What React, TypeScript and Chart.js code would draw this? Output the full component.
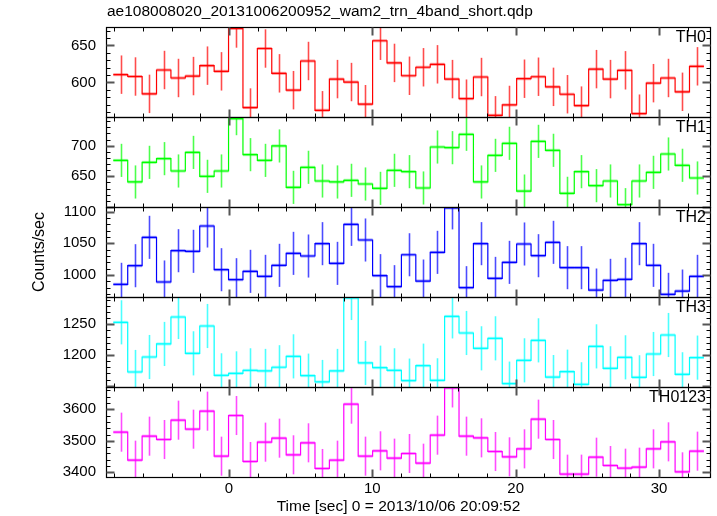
import React, { useEffect, useRef } from "react";
import { Chart, registerables } from "chart.js";

Chart.register(...registerables);

const FONT = '"Liberation Sans", Arial, Helvetica, sans-serif';

const TITLE = "ae108008020_20131006200952_wam2_trn_4band_short.qdp";
const X_LABEL = "Time [sec] 0 = 2013/10/06 20:09:52";
const Y_LABEL = "Counts/sec";

const PANEL_NAMES = ["TH0", "TH1", "TH2", "TH3", "TH0123"];
const PANEL_COLORS = ["#ff0000", "#00ff00", "#0000ff", "#00ffff", "#ff00ff"];

// time binning (seconds)
const BIN_START = -8.07;
const BIN_WIDTH = 1.005;
const X_MIN = -8.58;
const X_MAX = 33.63;
const X_MAJOR = 10;
const X_MINOR = 2;

// count rates per band
const TH0 = [610.5, 608, 584.5, 616.8, 606, 608.6, 622.7, 615, 673, 566,
  645.9, 612.3, 589.5, 629, 562.3, 604.5, 600.5, 570.5, 656.4,
  626.4, 609, 620.5, 624.5, 604.5, 578, 607.3, 555.5, 569.5, 605,
  607.7, 594, 584, 568.6, 618, 604.5, 616.4, 557.7, 599, 606,
  587.3, 621.8];
const TH1 = [676, 640.8, 672.8, 678.8, 658.7, 689, 650, 658.7, 744, 685.3,
  676, 699.5, 632, 664.7, 642.4, 640.8, 643.5, 637.5, 630.4,
  659.8, 657.6, 631, 697.8, 696.7, 718.5, 640.8, 684.2, 703.8, 626,
  707, 692.4, 622.3, 657.6, 634.8, 642.4, 603.8, 642.4, 656.5, 686.4,
  668, 647.3];
const TH2 = [985.3, 1014.7, 1059.5, 989, 1038.4, 1037.4, 1077.4, 1008.4, 992.6, 1005.8,
  997.9, 1015.3, 1034.2, 1030, 1049.5, 1018.4, 1080, 1055.3, 999,
  981.6, 1032, 990.5, 1035.8, 1106, 980, 1049.5, 994.7, 1020, 1049,
  1030.5, 1051.6, 1011.6, 1011.6, 976.3, 991.6, 993.2, 1049.5, 1015.3, 969.5,
  974.7, 997.9];
const TH3 = [1253.3, 1172.3, 1196.7, 1218, 1262, 1202.7, 1247.3, 1166.8, 1170, 1175,
  1174, 1180, 1197.8, 1166.3, 1156, 1174, 1293, 1187, 1179.3,
  1175, 1158.2, 1182.6, 1158.7, 1263, 1235.9, 1210.9, 1227.2, 1153.3, 1191.3,
  1223.9, 1164, 1172.8, 1152.2, 1214.1, 1178.3, 1196.2, 1163.6, 1201.6, 1232.6,
  1168.5, 1195.7];
const TH0123 = [3527.5, 3438.6, 3514.8, 3504.2, 3565.6, 3537, 3594.2, 3451.3, 3580.4, 3434.4,
  3495.8, 3508.5, 3455.6, 3493.7, 3412.2, 3438.6, 3616.4, 3451.3, 3468.3,
  3445, 3459.8, 3429, 3518, 3668, 3514.8, 3509.5, 3466.1, 3449.2, 3474.6,
  3568.8, 3504.2, 3394.2, 3394.2, 3448.1, 3421.7, 3413.2, 3416.4, 3474.6, 3496.8,
  3401.6, 3467.2];

// 1-sigma errors per band
const ERRORS = [26, 27, 34, 36, 62];

// axis ranges and tick steps per band
const Y_MINS = [553.2, 600, 965.3, 1147.8, 3385.2];
const Y_MAXS = [675, 746.7, 1107.4, 1294.6, 3670.9];
const Y_MAJORS = [50, 50, 50, 50, 100];
const Y_MINORS = [10, 10, 10, 10, 20];

const SERIES = [TH0, TH1, TH2, TH3, TH0123];

const PANEL_TOP = 27;
const PANEL_H = 90;
const PAD = 12;
const XAXIS_H = 39;
const LEFT_W = 106;
const RIGHT_PAD = 6;

function isMultiple(v: number, step: number) {
  return Math.abs(v / step - Math.round(v / step)) < 1e-6;
}

function makePlugin(i: number) {
  const color = PANEL_COLORS[i];
  const vals = SERIES[i];
  const err = ERRORS[i];
  return {
    id: "decor" + i,
    beforeDatasetsDraw(chart: any) {
      const { ctx, chartArea: a } = chart;
      const xs = chart.scales.x;
      const ys = chart.scales.y;
      ctx.save();
      ctx.beginPath();
      ctx.rect(a.left, a.top, a.right - a.left, a.bottom - a.top);
      ctx.clip();
      ctx.strokeStyle = color;
      vals.forEach((v: number, k: number) => {
        const t0 = BIN_START + k * BIN_WIDTH;
        const t1 = t0 + BIN_WIDTH;
        const tc = t0 + BIN_WIDTH / 2;
        ctx.globalAlpha = 0.4;
        ctx.lineWidth = 3;
        ctx.beginPath();
        ctx.moveTo(xs.getPixelForValue(t0), ys.getPixelForValue(v));
        ctx.lineTo(xs.getPixelForValue(t1), ys.getPixelForValue(v));
        ctx.stroke();
        ctx.globalAlpha = 0.7;
        ctx.lineWidth = 1.6;
        const px = Math.round(xs.getPixelForValue(tc)) + 0.5;
        ctx.beginPath();
        ctx.moveTo(px, ys.getPixelForValue(v - err));
        ctx.lineTo(px, ys.getPixelForValue(v + err));
        ctx.stroke();
      });
      ctx.restore();
    },
    afterDraw(chart: any) {
      const { ctx, chartArea: a } = chart;
      const xs = chart.scales.x;
      const ys = chart.scales.y;
      const L = Math.round(a.left) + 0.5;
      const R = Math.round(a.right) - 0.5;
      const T = Math.round(a.top) + 0.5;
      const B = Math.round(a.bottom) + 0.5;
      ctx.save();
      ctx.strokeStyle = "#000";
      ctx.lineWidth = 1.2;
      ctx.strokeRect(L, T, R - L, B - T);
      const ymaj = Y_MAJORS[i];
      const ymin = Y_MINORS[i];
      for (let v = Math.ceil(ys.min / ymin) * ymin; v <= ys.max; v += ymin) {
        const major = isMultiple(v, ymaj);
        const py = Math.round(ys.getPixelForValue(v)) + 0.5;
        const len = major ? 8 : 4;
        ctx.strokeStyle = major ? "#555" : "#000";
        ctx.lineWidth = major ? 2 : 1;
        ctx.beginPath();
        ctx.moveTo(L, py);
        ctx.lineTo(L + len, py);
        ctx.moveTo(R, py);
        ctx.lineTo(R - len, py);
        ctx.stroke();
      }
      for (let t = Math.ceil(xs.min / X_MINOR) * X_MINOR; t <= xs.max; t += X_MINOR) {
        const major = isMultiple(t, X_MAJOR);
        const px = Math.round(xs.getPixelForValue(t)) + 0.5;
        const len = major ? 8 : 4;
        ctx.strokeStyle = major ? "#555" : "#000";
        ctx.lineWidth = major ? 2 : 1;
        ctx.beginPath();
        ctx.moveTo(px, B);
        ctx.lineTo(px, B - len);
        ctx.moveTo(px, T);
        ctx.lineTo(px, T + len);
        ctx.stroke();
      }
      ctx.fillStyle = "#000";
      ctx.font = `16px ${FONT}`;
      ctx.textAlign = "right";
      ctx.textBaseline = "middle";
      ctx.fillText(PANEL_NAMES[i], a.right - 5, a.top + 11);
      if (i === 0) {
        ctx.font = `15.5px ${FONT}`;
        ctx.textAlign = "left";
        ctx.fillText(TITLE, a.left + 1, 12);
      }
      if (i === 2) {
        ctx.font = `16px ${FONT}`;
        ctx.textAlign = "center";
        ctx.translate(40, (a.top + a.bottom) / 2);
        ctx.rotate(-Math.PI / 2);
        ctx.fillText(Y_LABEL, 0, 0);
      }
      if (i === 4) {
        ctx.font = `15.5px ${FONT}`;
        ctx.textAlign = "center";
        ctx.fillText(X_LABEL, (a.left + a.right) / 2 - 10, chart.height - 9);
      }
      ctx.restore();
    },
  };
}

function panelGeom(i: number) {
  const isTop = i === 0;
  const isBottom = i === 4;
  const padTop = isTop ? PANEL_TOP : PAD;
  const padBottom = isBottom ? 0 : PAD;
  const top = PANEL_TOP + PANEL_H * i - padTop;
  const height = padTop + PANEL_H + (isBottom ? XAXIS_H : padBottom);
  return { top, height, padTop, padBottom, isBottom };
}

export default function App() {
  const refs = useRef<(HTMLCanvasElement | null)[]>([]);

  useEffect(() => {
    const charts: Chart[] = [];
    SERIES.forEach((vals, i) => {
      const canvas = refs.current[i];
      if (!canvas) return;
      const g = panelGeom(i);
      const edges = [...vals, vals[vals.length - 1]].map((v, k) => ({
        x: BIN_START + k * BIN_WIDTH,
        y: v,
      }));
      const yMin = Y_MINS[i];
      const yMax = Y_MAXS[i];
      const edgeGap = (yMax - yMin) * 0.03;
      const chart = new Chart(canvas, {
        type: "line",
        data: {
          datasets: [
            {
              label: PANEL_NAMES[i],
              data: edges,
              stepped: "before",
              borderColor: PANEL_COLORS[i],
              borderWidth: 1.2,
              pointRadius: 0,
              fill: false,
            },
          ],
        },
        options: {
          animation: false,
          responsive: false,
          maintainAspectRatio: false,
          devicePixelRatio: 1,
          layout: {
            padding: { left: 0, right: RIGHT_PAD, top: g.padTop, bottom: g.padBottom },
          },
          plugins: {
            legend: { display: false },
            tooltip: { enabled: false },
            title: { display: false },
          },
          scales: {
            x: {
              type: "linear",
              min: X_MIN,
              max: X_MAX,
              display: g.isBottom,
              grid: { display: false, drawTicks: false },
              border: { display: false },
              afterBuildTicks: (s: any) => {
                s.ticks = s.ticks.filter((t: any) => isMultiple(t.value, X_MAJOR));
              },
              afterFit: (s: any) => {
                s.height = g.isBottom ? XAXIS_H : 0;
                s.paddingLeft = 0;
                s.paddingRight = 0;
              },
              ticks: {
                stepSize: X_MAJOR,
                includeBounds: false,
                autoSkip: false,
                maxRotation: 0,
                padding: 3,
                color: "#000",
                font: { family: FONT, size: 15 },
                callback: (v: any) => String(v),
              },
            },
            y: {
              type: "linear",
              min: yMin,
              max: yMax,
              grid: { display: false, drawTicks: false },
              border: { display: false },
              afterBuildTicks: (s: any) => {
                s.ticks = s.ticks.filter(
                  (t: any) =>
                    isMultiple(t.value, Y_MAJORS[i]) &&
                    t.value - yMin > edgeGap &&
                    yMax - t.value > edgeGap
                );
              },
              afterFit: (s: any) => {
                s.width = LEFT_W;
                s.paddingTop = 0;
                s.paddingBottom = 0;
              },
              ticks: {
                stepSize: Y_MAJORS[i],
                includeBounds: false,
                autoSkip: false,
                padding: 10,
                color: "#000",
                font: { family: FONT, size: 15 },
                callback: (v: any) => String(v),
              },
            },
          },
        } as any,
        plugins: [makePlugin(i)],
      });
      charts.push(chart);
    });
    return () => charts.forEach((c) => c.destroy());
  }, []);

  return (
    <div
      style={{
        position: "fixed",
        left: 0,
        top: 0,
        width: 717,
        height: 516,
        background: "#fff",
        overflow: "hidden",
      }}
    >
      {SERIES.map((_, i) => {
        const g = panelGeom(i);
        return (
          <canvas
            key={i}
            ref={(el) => {
              refs.current[i] = el;
            }}
            width={717}
            height={g.height}
            style={{
              position: "absolute",
              left: 0,
              top: g.top,
              width: 717,
              height: g.height,
            }}
          />
        );
      })}
    </div>
  );
}
